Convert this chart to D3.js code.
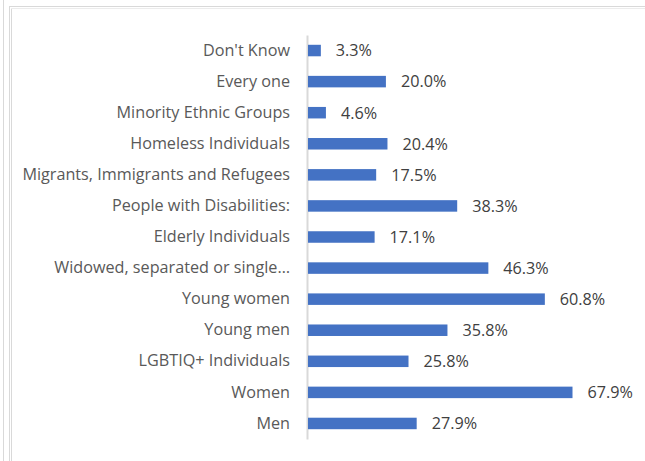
<!DOCTYPE html>
<html>
<head>
<meta charset="utf-8">
<script src="https://cdn.jsdelivr.net/npm/d3@7"></script>
<style>
  html, body { margin: 0; padding: 0; background: #fff; }
  svg { display: block; }
</style>
</head>
<body>
<svg id="chart" width="645" height="461"></svg>
<script>
// Groups, top to bottom, and the share of responses for each
const categories = [
  "Don't Know",
  "Every one",
  "Minority Ethnic Groups",
  "Homeless Individuals",
  "Migrants, Immigrants and Refugees",
  "People with Disabilities:",
  "Elderly Individuals",
  "Widowed, separated or single…",
  "Young women",
  "Young men",
  "LGBTIQ+ Individuals",
  "Women",
  "Men"
];
const values = [3.3, 20.0, 4.6, 20.4, 17.5, 38.3, 17.1, 46.3, 60.8, 35.8, 25.8, 67.9, 27.9];

const svg = d3.select("#chart");
const W = 645, H = 461;
const font = "'Open Sans', Lato, sans-serif";

// Frame lines around the chart area
const frame = svg.append("g").attr("stroke", "#d9d9d9").attr("fill", "none");
frame.append("line").attr("x1", 3.5).attr("x2", 3.5).attr("y1", 0).attr("y2", H);
frame.append("line").attr("x1", 9.5).attr("x2", 9.5).attr("y1", 6).attr("y2", H);
frame.append("line").attr("x1", 11.5).attr("x2", 11.5).attr("y1", 8).attr("y2", H);
frame.append("line").attr("x1", 9).attr("x2", W).attr("y1", 6.5).attr("y2", 6.5);
frame.append("line").attr("x1", 11).attr("x2", W).attr("y1", 8.5).attr("y2", 8.5).attr("stroke", "#ececec");

const x0 = 308;
const x = d3.scaleLinear().domain([0, 67.9]).range([x0, 572.5]);
const y = d3.scaleBand().domain(categories).range([35, 439]).paddingInner(0.63).paddingOuter(0.315);

// Category axis on the left
const yAxis = d3.axisLeft(y).tickSize(0).tickPadding(17);
const gy = svg.append("g").attr("transform", `translate(${x0 - 1},0)`).call(yAxis);
gy.select(".domain").attr("stroke", "#d9d9d9").attr("stroke-width", 2);
gy.selectAll("text")
  .attr("font-family", font)
  .attr("font-size", 16.2)
  .attr("fill", "#595959");

// Bars
svg.append("g").selectAll("rect")
  .data(values)
  .join("rect")
  .attr("x", x0)
  .attr("y", (d, i) => y(categories[i]))
  .attr("width", d => x(d) - x0)
  .attr("height", y.bandwidth())
  .attr("fill", "#4472c4");

// Value labels
svg.append("g").selectAll("text")
  .data(values)
  .join("text")
  .attr("x", d => x(d) + 15)
  .attr("y", (d, i) => y(categories[i]) + y.bandwidth() / 2)
  .attr("dy", "0.36em")
  .attr("font-family", font)
  .attr("font-size", 16.2)
  .attr("fill", "#404040")
  .text(d => d.toFixed(1) + "%");
</script>
</body>
</html>
